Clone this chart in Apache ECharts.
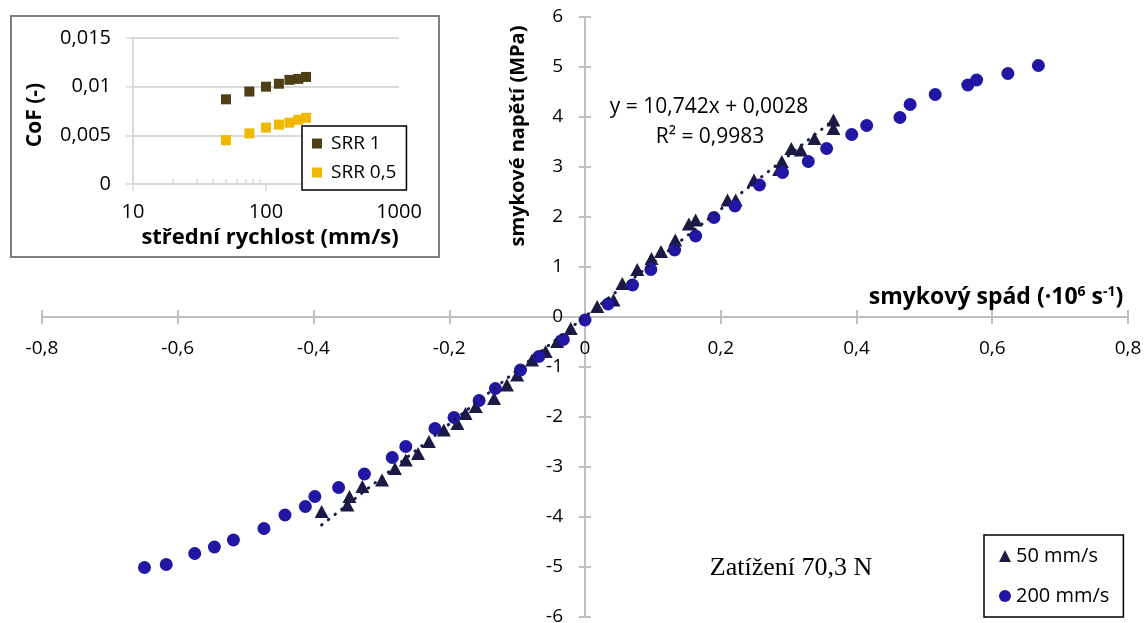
<!DOCTYPE html>
<html>
<head>
<meta charset="utf-8">
<script src="https://cdn.jsdelivr.net/npm/echarts@6/dist/echarts.min.js"></script>
<style>
html,body{margin:0;padding:0;background:#fff;}
#main{width:1147px;height:623px;}
</style>
</head>
<body>
<div id="main"></div>
<script>
// ---- Main chart data (shear rate ·10^6 s^-1, shear stress MPa) ----
const seriesNames = ['50 mm/s', '200 mm/s'];
const tri50X = [0.018, 0.042, 0.055, 0.077, 0.098, 0.112, 0.133, 0.153, 0.163, 0.210, 0.222, 0.249, 0.286, 0.290, 0.304, 0.318, 0.338, 0.366, 0.366,
  -0.021, -0.041, -0.058, -0.078, -0.100, -0.115, -0.134, -0.161, -0.176, -0.188, -0.208, -0.230, -0.246, -0.264, -0.280, -0.299, -0.328, -0.347, -0.350, -0.388];
const tri50Y = [0.21, 0.34, 0.67, 0.95, 1.17, 1.31, 1.54, 1.86, 1.94, 2.34, 2.34, 2.74, 2.95, 3.11, 3.37, 3.34, 3.57, 3.77, 3.94,
  -0.23, -0.49, -0.69, -0.86, -1.16, -1.36, -1.63, -1.79, -1.93, -2.13, -2.26, -2.49, -2.73, -2.86, -3.03, -3.26, -3.39, -3.59, -3.76, -3.89];
const circ200X = [0.000, 0.034, 0.070, 0.097, 0.132, 0.163, 0.190, 0.221, 0.257, 0.291, 0.329, 0.356, 0.393, 0.415, 0.464, 0.479, 0.516, 0.564, 0.577, 0.623, 0.668,
  -0.032, -0.068, -0.095, -0.132, -0.156, -0.193, -0.221, -0.264, -0.284, -0.325, -0.363, -0.398, -0.412, -0.442, -0.473, -0.518, -0.546, -0.575, -0.617, -0.649];
const circ200Y = [-0.06, 0.26, 0.64, 0.95, 1.34, 1.62, 1.99, 2.22, 2.64, 2.89, 3.11, 3.37, 3.65, 3.83, 3.99, 4.25, 4.45, 4.64, 4.74, 4.87, 5.03,
  -0.45, -0.79, -1.06, -1.43, -1.67, -2.01, -2.23, -2.59, -2.81, -3.14, -3.41, -3.59, -3.79, -3.96, -4.23, -4.46, -4.60, -4.73, -4.95, -5.01];
// linear trendline end points for 50 mm/s (as drawn)
const trendX = [-0.388, 0.368];
const trendY = [-4.16, 3.96];
const xTicks = {min: -0.8, max: 0.8, interval: 0.2};
const yTicks = {min: -6, max: 6, interval: 1};

// ---- Inset chart data (CoF vs mean speed) ----
const insetNames = ['SRR 1', 'SRR 0,5'];
const speed = [50, 75, 100, 125, 150, 175, 200];
const cofSRR1 = [0.0087, 0.0095, 0.0100, 0.0103, 0.0107, 0.0108, 0.0110];
const cofSRR05 = [0.0045, 0.0052, 0.0058, 0.0061, 0.0063, 0.0066, 0.0068];
const insetMinorTicks = [20, 30, 40, 50, 60, 70, 80, 90];

const zip = (a, b) => a.map((v, i) => [v, b[i]]);
const fmt = v => String(Math.round(v * 1000) / 1000).replace('.', ',');

const FONT = 'Open Sans';
const axisGray = '#bfbfbf';
const triColor = '#1b1a44';
const circColor = '#2217a5';
const srr1Color = '#4e3f17';
const srr05Color = '#f0b800';

// main grid geometry
const G = {left: 42, right: 19, top: 17, bottom: 6};
const GW = 1147 - G.left - G.right;
const GH = 623 - G.top - G.bottom;
// offsets that put the axes through the origin (x = 0, y = 0)
const xAxisOff = -GH * (yTicks.max / (yTicks.max - yTicks.min));
const yAxisOff = -GW * ((0 - xTicks.min) / (xTicks.max - xTicks.min));
// inset grid geometry
const IG = {left: 133, top: 38, width: 266, height: 146};

const chart = echarts.init(document.getElementById('main'), null, {renderer: 'canvas'});

const option = {
  backgroundColor: '#ffffff',
  animation: false,
  textStyle: {fontFamily: FONT},
  grid: [
    {left: G.left, right: G.right, top: G.top, bottom: G.bottom, containLabel: false, outerBoundsMode: 'none'},
    {left: IG.left, top: IG.top, width: IG.width, height: IG.height, containLabel: false, outerBoundsMode: 'none'}
  ],
  xAxis: [
    {
      gridIndex: 0, type: 'value', position: 'bottom', offset: xAxisOff,
      min: xTicks.min, max: xTicks.max, interval: xTicks.interval,
      axisLine: {show: true, onZero: false, lineStyle: {color: axisGray, width: 2}},
      axisTick: {show: true, length: 7, lineStyle: {color: axisGray, width: 2}},
      axisLabel: {fontSize: 19, color: '#000', margin: 22, fontFamily: FONT, formatter: fmt},
      splitLine: {show: false}
    },
    {
      gridIndex: 0, type: 'value', position: 'top', offset: xAxisOff,
      min: xTicks.min, max: xTicks.max, interval: xTicks.interval,
      axisLine: {show: false, onZero: false},
      axisTick: {show: true, length: 7, lineStyle: {color: axisGray, width: 2}},
      axisLabel: {show: false},
      splitLine: {show: false}
    },
    {
      gridIndex: 1, type: 'log', logBase: 10, min: 10, max: 1000, position: 'bottom',
      axisLine: {show: true, onZero: false, lineStyle: {color: '#d9d9d9', width: 2}},
      axisTick: {show: true, length: 7, lineStyle: {color: '#d9d9d9', width: 1.5}},
      axisLabel: {fontSize: 20, color: '#000', margin: 18, fontFamily: FONT, formatter: v => String(Math.round(v))},
      splitLine: {show: false},
      minorTick: {show: false}
    },
    {
      gridIndex: 1, type: 'log', logBase: 10, min: 10, max: 1000, position: 'top', offset: -IG.height,
      axisLine: {show: false, onZero: false},
      axisTick: {show: true, length: 5, customValues: insetMinorTicks, lineStyle: {color: '#d9d9d9', width: 1.5}},
      axisLabel: {show: false},
      splitLine: {show: false}
    }
  ],
  yAxis: [
    {
      gridIndex: 0, type: 'value', position: 'left', offset: yAxisOff,
      min: yTicks.min, max: yTicks.max, interval: yTicks.interval,
      axisLine: {show: true, onZero: false, lineStyle: {color: axisGray, width: 2}},
      axisTick: {show: true, length: 6, lineStyle: {color: axisGray, width: 2}},
      axisLabel: {fontSize: 19, color: '#000', margin: 22, fontFamily: FONT},
      splitLine: {show: false}
    },
    {
      gridIndex: 0, type: 'value', position: 'right', offset: yAxisOff,
      min: yTicks.min, max: yTicks.max, interval: yTicks.interval,
      axisLine: {show: false, onZero: false},
      axisTick: {show: true, length: 6, lineStyle: {color: axisGray, width: 2}},
      axisLabel: {show: false},
      splitLine: {show: false}
    },
    {
      gridIndex: 1, type: 'value', min: 0, max: 0.015, interval: 0.005,
      axisLine: {show: true, onZero: false, lineStyle: {color: '#d9d9d9', width: 2}},
      axisTick: {show: true, length: 7, lineStyle: {color: '#d9d9d9', width: 1.5}},
      axisLabel: {fontSize: 20, color: '#000', margin: 22, fontFamily: FONT, formatter: v => String(v).replace('.', ',')},
      splitLine: {show: true, lineStyle: {color: '#d9d9d9', width: 2}}
    }
  ],
  legend: [
    {
      data: seriesNames.map((n, i) => ({name: n, icon: i === 0 ? 'triangle' : 'circle'})),
      orient: 'vertical', left: 984, top: 535,
      itemWidth: 12, itemHeight: 12, itemGap: 20,
      padding: [11, 14, 11, 15],
      borderColor: '#000', borderWidth: 1.5, backgroundColor: '#fff',
      textStyle: {fontSize: 20, color: '#000', fontFamily: FONT},
      selectedMode: false
    },
    {
      data: insetNames.map(n => ({name: n, icon: 'rect'})),
      orient: 'vertical', left: 302, top: 126,
      itemWidth: 10, itemHeight: 10, itemGap: 10,
      padding: [8, 10, 8, 10],
      borderColor: '#000', borderWidth: 1.5, backgroundColor: '#fff',
      textStyle: {fontSize: 19, color: '#000', fontFamily: FONT, padding: [0, 0, 0, 4]},
      selectedMode: false, z: 10
    }
  ],
  series: [
    {
      name: seriesNames[0], type: 'scatter', xAxisIndex: 0, yAxisIndex: 0,
      data: zip(tri50X, tri50Y), symbol: 'triangle', symbolSize: [14, 13],
      itemStyle: {color: triColor, opacity: 1}, z: 2
    },
    {
      name: seriesNames[1], type: 'scatter', xAxisIndex: 0, yAxisIndex: 0,
      data: zip(circ200X, circ200Y), symbol: 'circle', symbolSize: 13,
      itemStyle: {color: circColor, opacity: 1}, z: 3
    },
    {
      name: 'trend', type: 'line', xAxisIndex: 0, yAxisIndex: 0,
      data: zip(trendX, trendY), showSymbol: false, symbol: 'none',
      lineStyle: {color: triColor, width: 3, type: [0.5, 8], cap: 'round'},
      z: 4, silent: true
    },
    {
      name: insetNames[0], type: 'scatter', xAxisIndex: 2, yAxisIndex: 2,
      data: zip(speed, cofSRR1), symbol: 'rect', symbolSize: 10,
      itemStyle: {color: srr1Color, opacity: 1}
    },
    {
      name: insetNames[1], type: 'scatter', xAxisIndex: 2, yAxisIndex: 2,
      data: zip(speed, cofSRR05), symbol: 'rect', symbolSize: 10,
      itemStyle: {color: srr05Color, opacity: 1}
    }
  ],
  graphic: [
    {
      type: 'rect', left: 10, top: 15, z: -10,
      shape: {width: 428, height: 241},
      style: {fill: '#fff', stroke: '#7f7f7f', lineWidth: 2}
    },
    {
      type: 'text', x: 35, y: 115, rotation: Math.PI / 2, z: 20,
      style: {text: 'CoF (-)', font: 'bold 21px "Open Sans"', fill: '#000', align: 'center', verticalAlign: 'middle'}
    },
    {
      type: 'text', x: 270, y: 238, z: 20,
      style: {text: 'střední rychlost (mm/s)', font: 'bold 22px "Open Sans"', fill: '#000', align: 'center', verticalAlign: 'middle'}
    },
    {
      type: 'text', x: 518, y: 136, rotation: Math.PI / 2, z: 20,
      style: {text: 'smykové napětí (MPa)', font: 'bold 20px "Open Sans"', fill: '#000', align: 'center', verticalAlign: 'middle'}
    },
    {
      type: 'text', x: 996, y: 297, z: 20,
      style: {
        text: 'smykový spád (·10{sup|6} s{sup|-1})',
        font: 'bold 23px "Open Sans"', fill: '#000', align: 'center', verticalAlign: 'middle',
        rich: {sup: {fontSize: 14, fontWeight: 'bold', fontFamily: FONT, verticalAlign: 'top', fill: '#000'}}
      }
    },
    {
      type: 'text', x: 709, y: 107, z: 20,
      style: {text: 'y = 10,742x + 0,0028', font: '21px "Open Sans"', fill: '#000', align: 'center', verticalAlign: 'middle'}
    },
    {
      type: 'text', x: 710, y: 137, z: 20,
      style: {text: 'R² = 0,9983', font: '21px "Open Sans"', fill: '#000', align: 'center', verticalAlign: 'middle'}
    },
    {
      type: 'text', x: 791, y: 568, z: 20,
      style: {text: 'Zatížení 70,3 N', font: '26px "Liberation Serif"', fill: '#000', align: 'center', verticalAlign: 'middle'}
    }
  ]
};
chart.setOption(option);
</script>
</body>
</html>
